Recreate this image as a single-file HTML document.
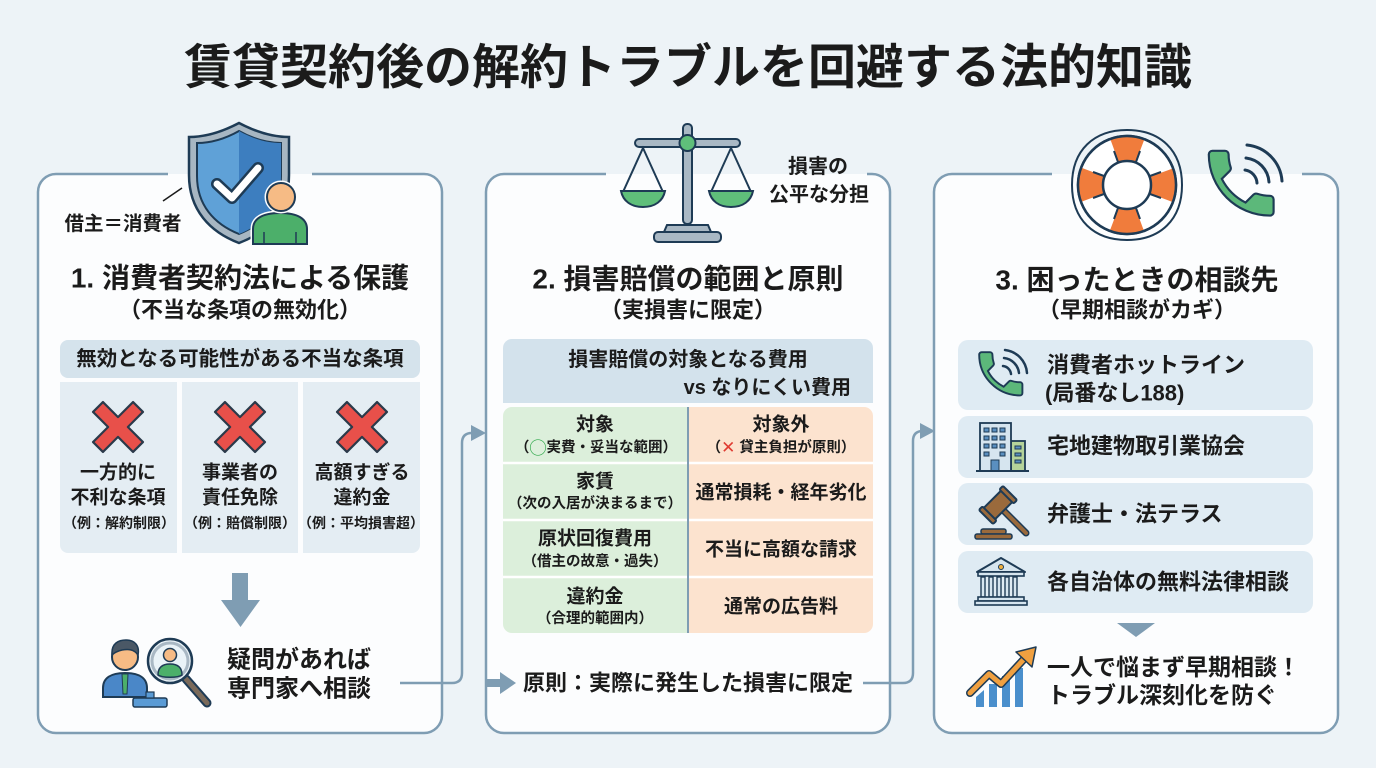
<!DOCTYPE html>
<html><head><meta charset="utf-8"><style>
html,body{margin:0;padding:0;background:#edf3f7;}
svg{display:block;}
text{font-family:"Liberation Sans","Noto Sans CJK JP",sans-serif;font-weight:bold;fill:#1b1b1b;}
</style></head><body>
<svg width="1376" height="768" viewBox="0 0 1376 768" xmlns="http://www.w3.org/2000/svg">
<defs>
<g id="xmark"><polygon points="0,-9.9 15.05,-24.95 24.95,-15.05 9.9,0 24.95,15.05 15.05,24.95 0,9.9 -15.05,24.95 -24.95,15.05 -9.9,0 -24.95,-15.05 -15.05,-24.95" fill="#e8504a" stroke="#2b3a4a" stroke-width="2.2" stroke-linejoin="round"/></g>
<path id="phone" d="M6.62 10.79c1.44 2.83 3.760 5.14 6.59 6.59l2.2-2.2c.27-.27.67-.36 1.02-.24 1.12.37 2.33.57 3.57.57.55 0 1 .45 1 1V20c0 .55-.45 1-1 1-9.39 0-17-7.610-17-17 0-.55.45-1 1-1h3.5c.55 0 1 .45 1 1 0 1.25.2 2.45.57 3.57.11.35.03.74-.25 1.020l-2.2 2.2z"/>
<clipPath id="tbl"><rect x="503" y="407" width="370" height="226" rx="9"/></clipPath>
</defs>
<rect width="1376" height="768" fill="#edf3f7"/>

<!-- Title -->
<text x="688" y="68" font-size="48" text-anchor="middle" dominant-baseline="central">賃貸契約後の解約トラブルを回避する法的知識</text>

<!-- Panels -->
<g fill="#fcfdfe">
<rect x="38" y="174" width="404" height="559" rx="18"/>
<rect x="486" y="174" width="404" height="559" rx="18"/>
<rect x="934" y="174" width="404" height="559" rx="18"/>
</g>
<g fill="none" stroke="#7f9db3" stroke-width="2.5">
<path d="M312,174 H424 A18,18 0 0 1 442,192 V715 A18,18 0 0 1 424,733 H56 A18,18 0 0 1 38,715 V192 A18,18 0 0 1 56,174 H168"/>
<path d="M867,174 H872 A18,18 0 0 1 890,192 V715 A18,18 0 0 1 872,733 H504 A18,18 0 0 1 486,715 V192 A18,18 0 0 1 504,174 H606"/>
<path d="M1302,174 H1320 A18,18 0 0 1 1338,192 V715 A18,18 0 0 1 1320,733 H952 A18,18 0 0 1 934,715 V192 A18,18 0 0 1 952,174 H1052"/>
</g>

<!-- ========== PANEL 1 ========== -->
<!-- shield -->
<path d="M239,123 C258,133 275,137 289,137 V175 C289,210 268,232 239,243 C210,232 189,210 189,175 V137 C203,137 220,133 239,123 Z" fill="#a7b6c2" stroke="#1e3b55" stroke-width="2.5"/>
<path d="M239,131 C255,140 269,143 281,143 V176 C281,205 264,224 239,234 C214,224 197,205 197,176 V143 C209,143 223,140 239,131 Z" fill="#5fa1d7" stroke="#1e3b55" stroke-width="2"/>
<path d="M239,131 C255,140 269,143 281,143 V176 C281,205 264,224 239,234 Z" fill="#3d7ebf"/>
<polyline points="217,184 232,198 258,168" fill="none" stroke="#1e3b55" stroke-width="12" stroke-linecap="round" stroke-linejoin="round"/>
<polyline points="217,184 232,198 258,168" fill="none" stroke="#ffffff" stroke-width="7" stroke-linecap="round" stroke-linejoin="round"/>
<!-- person -->
<path d="M253,244 V229 C253,219 262,213 280,213 C298,213 307,219 307,229 V244 Z" fill="#4caf6a" stroke="#fcfdfe" stroke-width="5"/>
<path d="M253,244 V229 C253,219 262,213 280,213 C298,213 307,219 307,229 V244 Z" fill="#4caf6a" stroke="#1e3b55" stroke-width="2"/>
<line x1="264" y1="232" x2="264" y2="244" stroke="#1e3b55" stroke-width="1.5"/>
<line x1="296" y1="232" x2="296" y2="244" stroke="#1e3b55" stroke-width="1.5"/>
<circle cx="281" cy="197" r="14" fill="#f6bb85" stroke="#fcfdfe" stroke-width="5"/>
<circle cx="281" cy="197" r="14" fill="#f6bb85" stroke="#1e3b55" stroke-width="2"/>
<line x1="163" y1="201" x2="182" y2="188" stroke="#1b1b1b" stroke-width="1.5"/>
<text x="123" y="224" font-size="19.5" text-anchor="middle" dominant-baseline="central">借主＝消費者</text>

<text x="240" y="278" font-size="28" text-anchor="middle" dominant-baseline="central">1. 消費者契約法による保護</text>
<text x="240" y="310" font-size="22" text-anchor="middle" dominant-baseline="central">（不当な条項の無効化）</text>

<rect x="60" y="340" width="360" height="38" rx="8" fill="#d5e3ec"/>
<text x="240" y="359" font-size="20.5" text-anchor="middle" dominant-baseline="central">無効となる可能性がある不当な条項</text>

<g fill="#e4edf3">
<path d="M60,382 H177 V553 H68 A8,8 0 0 1 60,545 Z"/>
<rect x="182" y="382" width="116" height="171"/>
<path d="M303,382 H420 V545 A8,8 0 0 1 412,553 H303 Z"/>
</g>
<use href="#xmark" x="118" y="427"/>
<use href="#xmark" x="240" y="427"/>
<use href="#xmark" x="362" y="427"/>
<g font-size="19" text-anchor="middle">
<text x="118" y="473" dominant-baseline="central">一方的に</text>
<text x="118" y="498" dominant-baseline="central">不利な条項</text>
<text x="240" y="473" dominant-baseline="central">事業者の</text>
<text x="240" y="498" dominant-baseline="central">責任免除</text>
<text x="362" y="473" dominant-baseline="central">高額すぎる</text>
<text x="362" y="498" dominant-baseline="central">違約金</text>
</g>
<g font-size="14" text-anchor="middle">
<text x="119" y="523" dominant-baseline="central">（例：解約制限）</text>
<text x="240" y="523" dominant-baseline="central">（例：賠償制限）</text>
<text x="361" y="523" dominant-baseline="central">（例：平均損害超）</text>
</g>

<!-- down arrow -->
<rect x="232" y="573" width="16" height="29" fill="#7f9db3"/>
<polygon points="221,600 260,600 240.5,627" fill="#7f9db3"/>

<!-- consultant icon -->
<path d="M103,697 V688 C103,678 111,673 125,673 C139,673 147,678 147,688 V697 Z" fill="#4a87c8" stroke="#1e3b55" stroke-width="2"/>
<polygon points="122,674 128,674 127,694 123,694" fill="#4caf6a" stroke="#1e3b55" stroke-width="1"/>
<circle cx="125" cy="657" r="13" fill="#f6bb85" stroke="#1e3b55" stroke-width="2"/>
<path d="M112,655 C111,643 119,640 126,640 C134,640 140,645 138,655 C134,649 128,649 122,650 C118,651 115,652 112,655 Z" fill="#4a5866" stroke="#1e3b55" stroke-width="1.5"/>
<rect x="133" y="698" width="34" height="9" rx="2" fill="#5a9bd5" stroke="#1e3b55" stroke-width="1.5"/>
<rect x="146" y="692" width="8" height="6" fill="#5a9bd5" stroke="#1e3b55" stroke-width="1.2"/>
<line x1="186" y1="679" x2="207" y2="703" stroke="#1e3b55" stroke-width="9" stroke-linecap="round"/>
<line x1="186" y1="679" x2="207" y2="703" stroke="#7a6a5a" stroke-width="5" stroke-linecap="round"/>
<circle cx="170" cy="661" r="22" fill="#eaf3f8" stroke="#1e3b55" stroke-width="2.5"/>
<circle cx="170" cy="661" r="18" fill="none" stroke="#a9b8c4" stroke-width="3"/>
<path d="M158,675 C158,667 163,664 170,664 C177,664 182,667 182,675 C178,678 162,678 158,675 Z" fill="#4caf6a" stroke="#1e3b55" stroke-width="1.5"/>
<circle cx="170" cy="655" r="6.5" fill="#f6bb85" stroke="#1e3b55" stroke-width="1.5"/>

<text x="299" y="660" font-size="24" text-anchor="middle" dominant-baseline="central">疑問があれば</text>
<text x="299" y="689" font-size="24" text-anchor="middle" dominant-baseline="central">専門家へ相談</text>

<!-- connector 1 -->
<path d="M400,683 H452 Q462,683 462,673 V443 Q462,433 472,433 H475" fill="none" stroke="#7f9db3" stroke-width="2.5"/>
<polygon points="471,425 486,433 471,441" fill="#7f9db3"/>

<!-- ========== PANEL 2 ========== -->
<!-- scale -->
<rect x="683" y="124" width="9" height="100" rx="4" fill="#a9b8c4" stroke="#1e3b55" stroke-width="2"/>
<rect x="635" y="139" width="105" height="8" rx="4" fill="#a9b8c4" stroke="#1e3b55" stroke-width="2"/>
<circle cx="687.5" cy="143" r="8" fill="#5fbf7a" stroke="#1e3b55" stroke-width="2"/>
<g fill="none" stroke="#1e3b55" stroke-width="2">
<polyline points="623,192 643,148 663,192"/>
<polyline points="711,192 731,148 751,192"/>
</g>
<path d="M621,191 H665 C663,201 655,207 643,207 C631,207 623,201 621,191 Z" fill="#5fbf7a" stroke="#1e3b55" stroke-width="2"/>
<path d="M709,191 H753 C751,201 743,207 731,207 C719,207 711,201 709,191 Z" fill="#5fbf7a" stroke="#1e3b55" stroke-width="2"/>
<path d="M667,225 H708 L711,232 H664 Z" fill="#a9b8c4" stroke="#1e3b55" stroke-width="2"/>
<rect x="654" y="232" width="67" height="10" rx="4" fill="#a9b8c4" stroke="#1e3b55" stroke-width="2"/>

<text x="818" y="167" font-size="20" text-anchor="middle" dominant-baseline="central">損害の</text>
<text x="819" y="195" font-size="20" text-anchor="middle" dominant-baseline="central">公平な分担</text>

<text x="688" y="279" font-size="28" text-anchor="middle" dominant-baseline="central">2. 損害賠償の範囲と原則</text>
<text x="688" y="310" font-size="22" text-anchor="middle" dominant-baseline="central">（実損害に限定）</text>

<path d="M503,403 V348 A9,9 0 0 1 512,339 H864 A9,9 0 0 1 873,348 V403 Z" fill="#d3e2ec"/>
<text x="688" y="360" font-size="20" text-anchor="middle" dominant-baseline="central">損害賠償の対象となる費用</text>
<text x="851" y="388" font-size="20" text-anchor="end" dominant-baseline="central">vs  なりにくい費用</text>

<g clip-path="url(#tbl)">
<rect x="503" y="407" width="185" height="226" fill="#dcefdb"/>
<rect x="688" y="407" width="185" height="226" fill="#fce3cf"/>
<g stroke="#ffffff" stroke-width="2.5">
<line x1="503" y1="463" x2="873" y2="463"/>
<line x1="503" y1="520" x2="873" y2="520"/>
<line x1="503" y1="577" x2="873" y2="577"/>
</g>
<line x1="688" y1="407" x2="688" y2="633" stroke="#7f9db3" stroke-width="2"/>
</g>
<g text-anchor="middle">
<text x="595" y="425" font-size="19" dominant-baseline="central">対象</text>
<text x="596" y="448" font-size="14.5" dominant-baseline="central">（<tspan fill="#2ea84a" font-size="17">◯</tspan>実費・妥当な範囲）</text>
<text x="781" y="425" font-size="19" dominant-baseline="central">対象外</text>
<text x="781" y="448" font-size="14.5" dominant-baseline="central">（<tspan fill="#e03c32" font-size="17" font-family="DejaVu Sans">✕</tspan> 貸主負担が原則）</text>
<text x="595" y="482" font-size="19" dominant-baseline="central">家賃</text>
<text x="595" y="504" font-size="14.5" dominant-baseline="central">（次の入居が決まるまで）</text>
<text x="781" y="493" font-size="19" dominant-baseline="central">通常損耗・経年劣化</text>
<text x="595" y="539" font-size="19" dominant-baseline="central">原状回復費用</text>
<text x="595" y="562" font-size="14.5" dominant-baseline="central">（借主の故意・過失）</text>
<text x="781" y="550" font-size="19" dominant-baseline="central">不当に高額な請求</text>
<text x="595" y="597" font-size="19" dominant-baseline="central">違約金</text>
<text x="595" y="619" font-size="14.5" dominant-baseline="central">（合理的範囲内）</text>
<text x="781" y="607" font-size="19" dominant-baseline="central">通常の広告料</text>
</g>

<!-- bottom arrow in panel 2 -->
<rect x="486" y="679" width="16" height="8" fill="#7f9db3"/>
<polygon points="500,672 516,683 500,694" fill="#7f9db3"/>
<text x="688" y="683" font-size="22" text-anchor="middle" dominant-baseline="central">原則：実際に発生した損害に限定</text>

<!-- connector 2 -->
<path d="M863,683 H903 Q913,683 913,673 V441 Q913,431 923,431 H924" fill="none" stroke="#7f9db3" stroke-width="2.5"/>
<polygon points="920,423 935,431 920,439" fill="#7f9db3"/>

<!-- ========== PANEL 3 ========== -->
<!-- lifebuoy -->
<path d="M1127,130 C1160,130 1182,150 1182,185 C1182,220 1160,240 1127,240 C1094,240 1072,220 1072,185 C1072,150 1094,130 1127,130 Z" fill="none" stroke="#1e3b55" stroke-width="2"/>
<circle cx="1127" cy="185" r="49" fill="#ffffff" stroke="#1e3b55" stroke-width="2.5"/>
<circle cx="1127" cy="185" r="36.5" fill="none" stroke="#f07c3c" stroke-width="25" stroke-dasharray="26 31.33" stroke-dashoffset="13"/>
<circle cx="1127" cy="185" r="49" fill="none" stroke="#1e3b55" stroke-width="2.5"/>
<circle cx="1127" cy="185" r="24" fill="#ffffff" stroke="#1e3b55" stroke-width="2.5"/>
<g stroke="#1e3b55" stroke-width="2">
<line x1="1114" y1="151" x2="1118" y2="162"/><line x1="1140" y1="151" x2="1136" y2="162"/>
<line x1="1114" y1="219" x2="1118" y2="208"/><line x1="1140" y1="219" x2="1136" y2="208"/>
<line x1="1093" y1="172" x2="1104" y2="176"/><line x1="1093" y1="198" x2="1104" y2="194"/>
<line x1="1161" y1="172" x2="1150" y2="176"/><line x1="1161" y1="198" x2="1150" y2="194"/>
</g>
<!-- phone -->
<use href="#phone" transform="translate(1198,140) scale(3.6)" fill="#5cb87a" stroke="#1e3b55" stroke-width="0.6"/>
<g fill="none" stroke="#1e3b55" stroke-width="3" stroke-linecap="round">
<path d="M1245,170 A14,14 0 0 1 1257,183"/>
<path d="M1246,158 A26,26 0 0 1 1269,182"/>
<path d="M1247,145 A39,39 0 0 1 1282,181"/>
</g>

<text x="1137" y="280" font-size="28" text-anchor="middle" dominant-baseline="central">3. 困ったときの相談先</text>
<text x="1137" y="310" font-size="22" text-anchor="middle" dominant-baseline="central">（早期相談がカギ）</text>

<g fill="#dfebf3">
<rect x="958" y="340" width="355" height="70" rx="10"/>
<rect x="958" y="416" width="355" height="62" rx="10"/>
<rect x="958" y="483" width="355" height="62" rx="10"/>
<rect x="958" y="551" width="355" height="62" rx="10"/>
</g>
<!-- small phone -->
<use href="#phone" transform="translate(972,345) scale(2.4)" fill="#5cb87a" stroke="#1e3b55" stroke-width="0.8"/>
<g fill="none" stroke="#1e3b55" stroke-width="2.5" stroke-linecap="round">
<path d="M1003,366 A9,9 0 0 1 1011,374"/>
<path d="M1004,358 A17,17 0 0 1 1019,373"/>
<path d="M1005,350 A25,25 0 0 1 1027,373"/>
</g>
<text x="1047" y="365" font-size="22" dominant-baseline="central">消費者ホットライン</text>
<text x="1045" y="393" font-size="22" dominant-baseline="central">(局番なし188)</text>

<!-- building -->
<rect x="1011" y="441" width="14" height="30" fill="#b5d39a" stroke="#1e3b55" stroke-width="1.8"/>
<rect x="980" y="423" width="31" height="48" fill="#d6e5ef" stroke="#1e3b55" stroke-width="1.8"/>
<g fill="#5a8fc0" stroke="#1e3b55" stroke-width="1">
<rect x="984" y="428" width="5" height="4"/><rect x="992" y="428" width="5" height="4"/><rect x="1000" y="428" width="5" height="4"/>
<rect x="984" y="436" width="5" height="4"/><rect x="992" y="436" width="5" height="4"/><rect x="1000" y="436" width="5" height="4"/>
<rect x="984" y="444" width="5" height="4"/><rect x="992" y="444" width="5" height="4"/><rect x="1000" y="444" width="5" height="4"/>
<rect x="984" y="452" width="5" height="4"/><rect x="1000" y="452" width="5" height="4"/>
<rect x="1015" y="446" width="6" height="3"/><rect x="1015" y="453" width="6" height="3"/><rect x="1015" y="460" width="6" height="3"/>
<rect x="991" y="460" width="8" height="11"/>
</g>
<line x1="976" y1="471" x2="1029" y2="471" stroke="#1e3b55" stroke-width="2"/>
<text x="1047" y="446" font-size="22" dominant-baseline="central">宅地建物取引業協会</text>

<!-- gavel -->
<line x1="1000" y1="507" x2="1026" y2="533" stroke="#1e3b55" stroke-width="7" stroke-linecap="round"/>
<line x1="1000" y1="507" x2="1026" y2="533" stroke="#9a6a3c" stroke-width="4" stroke-linecap="round"/>
<g transform="translate(998,505) rotate(-45)">
<rect x="-14" y="-8" width="28" height="16" rx="2" fill="#9a6a3c" stroke="#1e3b55" stroke-width="2"/>
<rect x="-17" y="-10" width="5" height="20" rx="1.5" fill="#9a6a3c" stroke="#1e3b55" stroke-width="2"/>
<rect x="12" y="-10" width="5" height="20" rx="1.5" fill="#9a6a3c" stroke="#1e3b55" stroke-width="2"/>
</g>
<rect x="981" y="529" width="25" height="5" rx="2" fill="#9a6a3c" stroke="#1e3b55" stroke-width="1.5"/>
<rect x="975" y="534" width="37" height="5" rx="2" fill="#9a6a3c" stroke="#1e3b55" stroke-width="1.5"/>
<text x="1047" y="514" font-size="22" dominant-baseline="central">弁護士・法テラス</text>

<!-- courthouse -->
<polygon points="977,572 1001,558 1025,572" fill="#d6e5ef" stroke="#1e3b55" stroke-width="2" stroke-linejoin="round"/>
<circle cx="1001" cy="567" r="2.5" fill="#f0b040" stroke="#1e3b55" stroke-width="1"/>
<rect x="978" y="572" width="46" height="4" fill="#d6e5ef" stroke="#1e3b55" stroke-width="1.6"/>
<g fill="#d6e5ef" stroke="#1e3b55" stroke-width="1.4">
<rect x="981" y="577" width="4" height="20"/><rect x="989" y="577" width="4" height="20"/><rect x="997" y="577" width="4" height="20"/><rect x="1005" y="577" width="4" height="20"/><rect x="1013" y="577" width="4" height="20"/>
</g>
<rect x="978" y="597" width="46" height="4" fill="#d6e5ef" stroke="#1e3b55" stroke-width="1.6"/>
<rect x="975" y="601" width="52" height="4" fill="#d6e5ef" stroke="#1e3b55" stroke-width="1.6"/>
<text x="1047" y="582" font-size="22" dominant-baseline="central">各自治体の無料法律相談</text>

<!-- triangle -->
<polygon points="1117,623 1155,623 1136,637" fill="#7f9db3"/>

<!-- chart -->
<g fill="#4a8fcc">
<polygon points="976,707 976,697 984,690 984,707"/>
<rect x="989" y="684" width="8" height="23"/>
<rect x="1002" y="676" width="8" height="31"/>
<rect x="1015" y="668" width="8" height="39"/>
</g>
<polyline points="970,693 989,674 1001,684 1025,658" fill="none" stroke="#1e3b55" stroke-width="8" stroke-linejoin="round" stroke-linecap="round"/>
<polyline points="970,693 989,674 1001,684 1025,658" fill="none" stroke="#f0a040" stroke-width="5" stroke-linejoin="round" stroke-linecap="round"/>
<polygon points="1016,652 1036,647 1032,667" fill="#f0a040" stroke="#1e3b55" stroke-width="1.5" stroke-linejoin="round"/>

<text x="1047" y="667" font-size="23" dominant-baseline="central">一人で悩まず早期相談！</text>
<text x="1047" y="695" font-size="23" dominant-baseline="central">トラブル深刻化を防ぐ</text>
</svg>
</body></html>
